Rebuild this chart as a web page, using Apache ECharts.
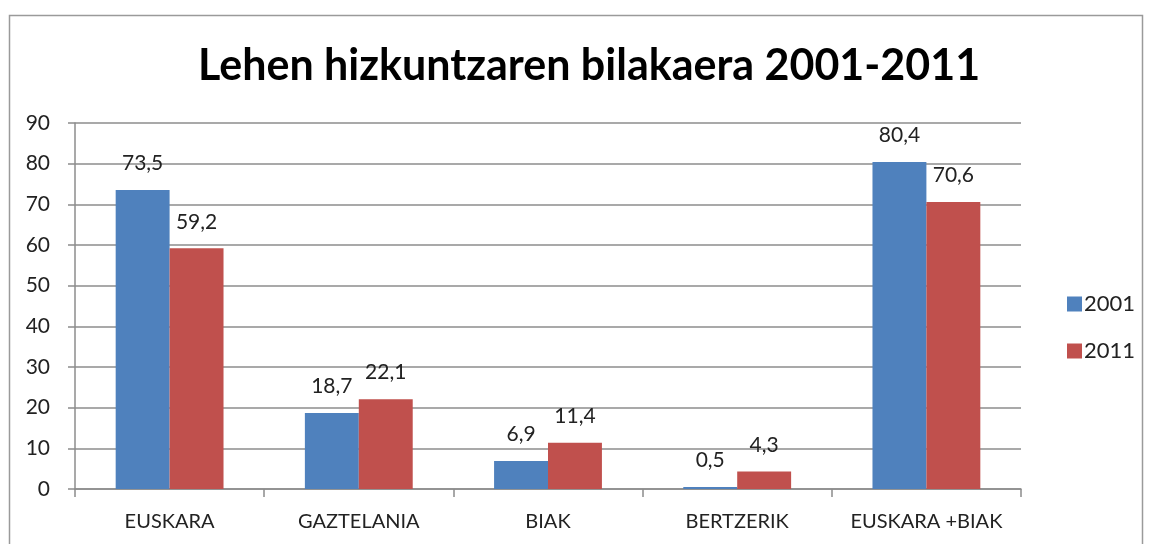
<!DOCTYPE html>
<html>
<head>
<meta charset="utf-8">
<script src="https://cdn.jsdelivr.net/npm/echarts@6/dist/echarts.min.js"></script>
<style>
  html, body { margin: 0; padding: 0; background: #fff; }
  #chart { width: 1149px; height: 544px; }
</style>
</head>
<body>
<div id="chart"></div>
<script>
// kategoriak eta urteak
const categories = ['EUSKARA', 'GAZTELANIA', 'BIAK', 'BERTZERIK', 'EUSKARA +BIAK'];
const values2001 = [73.5, 18.7, 6.9, 0.5, 80.4];
const values2011 = [59.2, 22.1, 11.4, 4.3, 70.6];
const yTicks = [0, 10, 20, 30, 40, 50, 60, 70, 80, 90];

const chart = echarts.init(document.getElementById('chart'));
const font = 'Lato';
const textColor = '#222';

const labelFmt = p => String(p.value).replace('.', ',');

chart.setOption({
  animation: false,
  textStyle: { fontFamily: font },
  title: {
    text: 'Lehen hizkuntzaren bilakaera 2001-2011',
    left: 193,
    top: 40,
    textStyle: { fontFamily: font, fontSize: 43, fontWeight: 'bold', color: '#000' }
  },
  graphic: [{
    type: 'rect',
    left: 7, top: 13,
    shape: { width: 1133, height: 600 },
    style: { fill: 'none', stroke: '#9a9a9a', lineWidth: 1.5 }
  }],
  legend: {
    orient: 'vertical',
    left: 1062,
    top: 288,
    itemWidth: 15,
    itemHeight: 15,
    itemGap: 25,
    icon: 'rect',
    textStyle: { fontFamily: font, fontSize: 22, color: textColor, padding: [0, 0, 0, -3] },
    data: ['2001', '2011']
  },
  grid: { left: 75, right: 128, top: 123, bottom: 55 },
  xAxis: {
    type: 'category',
    data: categories,
    axisLine: { lineStyle: { color: '#8c8c8c', width: 1.5 } },
    axisTick: { show: true, length: 8, lineStyle: { color: '#8c8c8c', width: 1.5 } },
    axisLabel: { interval: 0, fontFamily: font, fontSize: 20, color: textColor, margin: 23 }
  },
  yAxis: {
    type: 'value',
    min: yTicks[0],
    max: yTicks[yTicks.length - 1],
    interval: 10,
    axisLine: { show: true, lineStyle: { color: '#8c8c8c', width: 1.5 } },
    axisTick: { show: true, length: 7, lineStyle: { color: '#8c8c8c', width: 1.5 } },
    splitLine: { lineStyle: { color: '#8c8c8c', width: 1.5 } },
    axisLabel: { fontFamily: font, fontSize: 21, color: textColor, margin: 25 }
  },
  series: [
    {
      name: '2001',
      type: 'bar',
      data: values2001,
      barGap: '0%',
      barCategoryGap: '43%',
      itemStyle: { color: '#4f81bd' },
      label: { show: true, position: 'top', distance: 16, formatter: labelFmt,
               fontFamily: font, fontSize: 21, color: textColor }
    },
    {
      name: '2011',
      type: 'bar',
      data: values2011,
      barGap: '0%',
      barCategoryGap: '43%',
      itemStyle: { color: '#c0504d' },
      label: { show: true, position: 'top', distance: 16, formatter: labelFmt,
               fontFamily: font, fontSize: 21, color: textColor }
    }
  ]
});
</script>
</body>
</html>
